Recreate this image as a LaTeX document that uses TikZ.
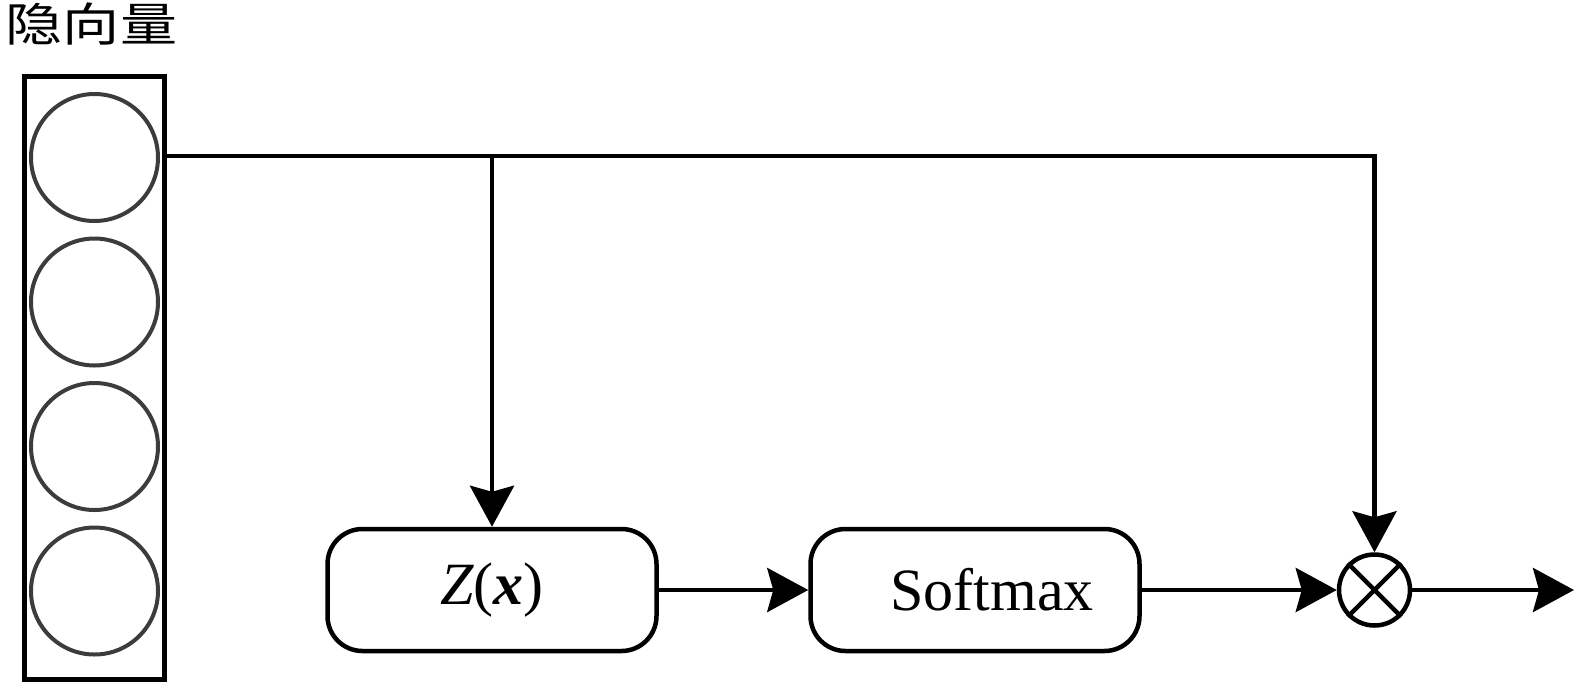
\documentclass[tikz,border=0pt]{standalone}
\usepackage{fontspec}
\setmainfont{Liberation Serif}
\newfontfamily\cjk{Noto Sans CJK SC}
\usetikzlibrary{arrows.meta}
\definecolor{cgray}{HTML}{3C3C3C}
\tikzset{
  ln/.style={line width=4.5pt, draw=black},
  arr/.style={ln, -{Stealth[length=41pt,width=44pt,inset=6pt]}},
  unit/.style={circle, draw=cgray, line width=4pt, minimum size=127pt, inner sep=0pt},
  vecbox/.style={rectangle, ln, minimum width=140pt, minimum height=603pt, inner sep=0pt},
  fbox/.style={rectangle, rounded corners=35pt, ln, minimum width=329pt, minimum height=122pt, inner sep=0pt, font=\fontsize{60}{72}\selectfont},
  mulc/.style={circle, ln, minimum size=71pt, inner sep=0pt},
  ttl/.style={inner sep=0pt, font=\fontsize{46}{50}\selectfont\cjk}
}
\begin{document}
\begin{tikzpicture}[x=1pt,y=-1pt]
\useasboundingbox (0,0) rectangle (1574,683);
\node[ttl] (title) at (91.5,24) {\scalebox{1.24}[1]{隐向量}};
\node[vecbox] (vec) at (94.5,378) {};
\node[unit] (c1) at (94.5,157.5) {};
\node[unit] (c2) at (94.5,302) {};
\node[unit] (c3) at (94.5,446.5) {};
\node[unit] (c4) at (94.5,591) {};
\node[fbox] (zbox) at (492,590) {\textit{Z}(\textbf{\textit{x}})};
\node[fbox] (sbox) at (975,590) {\hspace*{34pt}Softmax};
\node[mulc] (mult) at (1374.5,590) {};
\draw[ln] (mult.north west) -- (mult.south east);
\draw[ln] (mult.north east) -- (mult.south west);
\coordinate (j1) at (492,156);
\coordinate (j2) at (1374.5,156);
\coordinate (out) at (1574,590);
\draw[arr] (vec.east |- j2) -- (j2) -- (mult.north);
\draw[arr] (j1) -- (zbox.north);
\draw[arr] (zbox.east) -- (sbox.west);
\draw[arr] (sbox.east) -- (mult.west);
\draw[arr] (mult.east) -- (out);
\end{tikzpicture}
\end{document}
